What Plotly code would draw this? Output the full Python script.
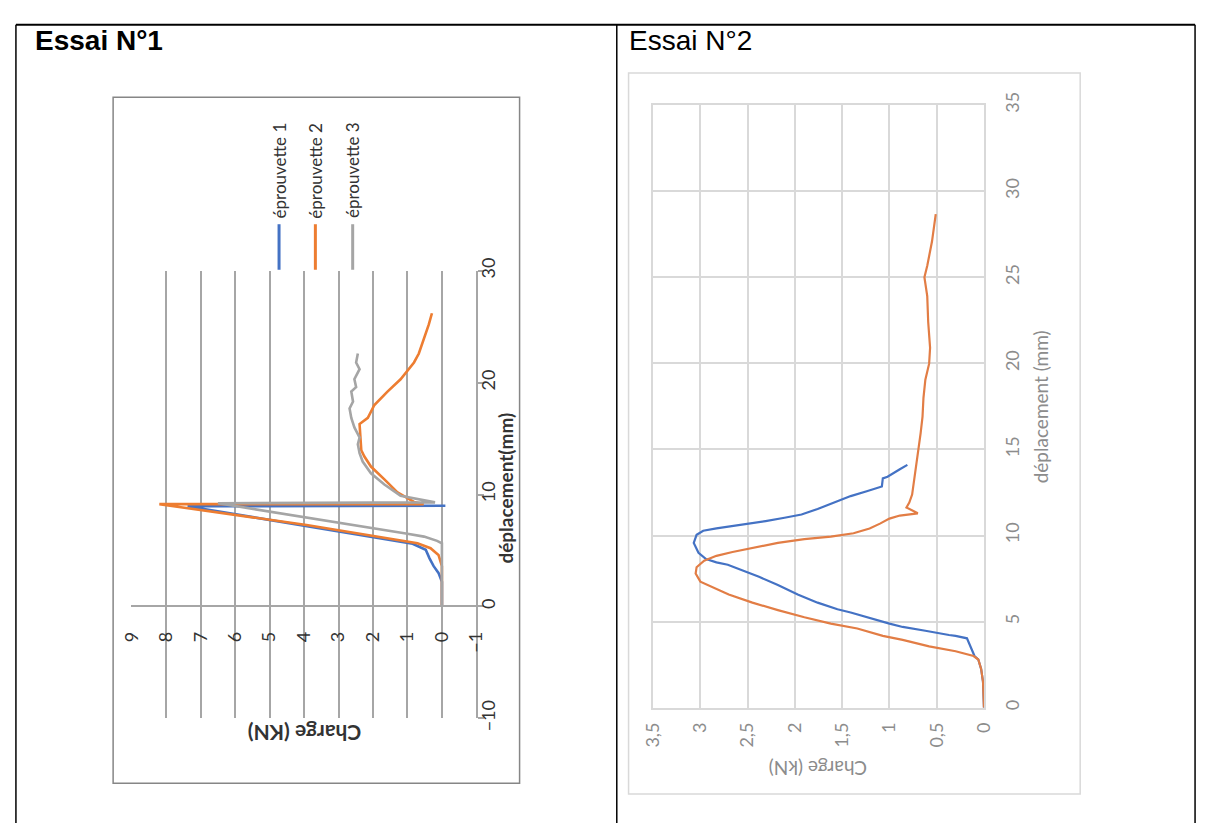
import plotly.graph_objects as go

W, H = 1208, 836

# ---------------- DATA ----------------
# Essai N°1 (déplacement mm, charge kN)
e1_ep1_depl = [0, 1.4, 2.2, 3.0, 3.6, 4.3, 5.06, 5.6, 8.95, 9.0]
e1_ep1_charge = [0, 0, 0, 0.1, 0.24, 0.36, 0.47, 0.85, 7.38, -0.1]

e1_ep2_depl = [0, 2.0, 3.6, 4.6, 5.2, 5.65, 7.28, 9.14, 9.14, 9.34, 10.2, 11.36, 12.5, 13.4,
               13.96, 16.3, 16.85, 18.0, 19.2, 20.3, 21.8, 22.6, 23.8, 25.2, 26.2]
e1_ep2_charge = [0, 0, 0, 0.1, 0.33, 0.71, 3.93, 8.2, 0.53, 0.81, 1.29, 1.67, 2.06, 2.25,
                 2.34, 2.39, 2.15, 1.96, 1.58, 1.2, 0.81, 0.67, 0.53, 0.38, 0.29]

e1_ep3_depl = [0, 3.0, 5.65, 5.86, 6.24, 6.5, 9.22, 9.3, 9.55, 9.9, 10.9, 11.9, 12.95, 13.7,
               14.5, 15.1, 16.0, 16.85, 17.7, 18.3, 19.2, 19.6, 20.3, 21.2, 21.8, 22.6]
e1_ep3_charge = [0, 0, 0, 0.14, 0.52, 1.0, 6.5, 0.2, 0.62, 1.2, 1.67, 2.06, 2.3, 2.39,
                 2.44, 2.39, 2.54, 2.63, 2.68, 2.58, 2.63, 2.49, 2.54, 2.39, 2.49, 2.44]

e1_names = ["éprouvette 1", "éprouvette 2", "éprouvette 3"]
e1_colors = ["#4472C4", "#ED7D31", "#A5A5A5"]

# Essai N°2
e2_s1_depl = [0, 1.5, 2.25, 2.8, 3.0, 4.03, 4.17, 4.22, 4.47, 4.69, 4.88, 5.22, 5.53, 5.72,
              6.1, 6.57, 7.13, 7.6, 8.07, 8.3, 8.44, 8.63, 9.0, 9.57, 10.04, 10.28, 10.41,
              10.6, 10.84, 11.03, 11.14, 11.22, 11.54, 11.91, 12.29, 12.57, 12.76, 12.85,
              13.32, 13.41, 13.85, 14.1]
e2_s1_charge = [0, 0.01, 0.03, 0.06, 0.1, 0.18, 0.3, 0.37, 0.62, 0.86, 1.0, 1.21, 1.41, 1.55,
                1.76, 1.97, 2.18, 2.38, 2.59, 2.71, 2.83, 2.94, 3.02, 3.07, 3.04, 2.97, 2.83,
                2.59, 2.31, 2.11, 2.0, 1.93, 1.76, 1.59, 1.41, 1.24, 1.12, 1.08,
                1.07, 1.02, 0.89, 0.81]

e2_s2_depl = [0, 1.5, 2.25, 2.8, 3.0, 3.28, 3.56, 3.94, 4.17, 4.6, 4.88, 5.25, 5.67, 6.1,
              6.57, 7.04, 7.32, 7.79, 8.16, 8.54, 8.82, 9.04, 9.29, 9.57, 9.79, 9.94, 10.13,
              10.41, 10.69, 10.98, 11.16, 11.29, 11.63, 11.91, 12.38, 13.13, 14.07, 15.0,
              15.95, 16.9, 18.0, 19.05, 19.98, 20.9, 22.4, 23.9, 25.0, 25.67, 27.07, 28.66]
e2_s2_charge = [0, 0.01, 0.03, 0.06, 0.11, 0.3, 0.58, 0.86, 1.07, 1.34, 1.62, 1.9, 2.18, 2.45,
                2.7, 2.9, 3.0, 3.05, 3.04, 2.96, 2.83, 2.66, 2.45, 2.18, 1.9, 1.62, 1.38,
                1.21, 1.1, 1.0, 0.89, 0.7, 0.82, 0.79, 0.76, 0.74, 0.72, 0.69,
                0.67, 0.65, 0.64, 0.62, 0.58, 0.57, 0.59, 0.6, 0.63, 0.6, 0.55, 0.51]
e2_colors = ["#4472C4", "#E27D45"]

# ticks
e1_charge_ticks = [-1, 0, 1, 2, 3, 4, 5, 6, 7, 8, 9]
e1_depl_ticks = [-10, 0, 10, 20, 30]
e2_charge_ticks = [0, 0.5, 1, 1.5, 2, 2.5, 3, 3.5]
e2_depl_ticks = [0, 5, 10, 15, 20, 25, 30, 35]

titles = ["Essai N°1", "Essai N°2"]


def px(x):
    return x / W


def py(y):
    return 1 - y / H


fig = go.Figure()

# ---- chart 1 traces (charge on x, déplacement on y: rotated chart)
for d, c, col, name in zip([e1_ep1_depl, e1_ep2_depl, e1_ep3_depl],
                           [e1_ep1_charge, e1_ep2_charge, e1_ep3_charge],
                           e1_colors, e1_names):
    fig.add_trace(go.Scatter(x=c, y=d, mode="lines", name=name,
                             line=dict(color=col, width=2.6),
                             xaxis="x", yaxis="y"))

# ---- chart 2 traces
for d, c, col in zip([e2_s1_depl, e2_s2_depl], [e2_s1_charge, e2_s2_charge], e2_colors):
    fig.add_trace(go.Scatter(x=c, y=d, mode="lines",
                             line=dict(color=col, width=2.2),
                             xaxis="x2", yaxis="y2"))

F1 = "Lato"
C1 = "#333333"
C2 = "#8C8C8C"
G1 = "#A6A6A6"
G2 = "#D9D9D9"

fig.update_layout(
    width=W, height=H,
    margin=dict(l=0, r=0, t=0, b=0),
    paper_bgcolor="white", plot_bgcolor="rgba(0,0,0,0)",
    showlegend=False,
    separators=", ",
    xaxis=dict(domain=[px(121.3), px(473)], range=[9.02, -1], tickvals=e1_charge_ticks,
               showgrid=True, gridcolor=G1, gridwidth=1.5, zeroline=False,
               showline=True, linecolor=G1, linewidth=1.5,
               anchor="free", position=py(612),
               tickangle=-90, ticks="", ticklabelstandoff=18,
               tickfont=dict(family=F1, size=18, color=C1)),
    yaxis=dict(domain=[py(728), py(266)], range=[-10, 30], tickvals=e1_depl_ticks,
               showgrid=False, zeroline=False, showline=True, linecolor=G1, linewidth=1.5,
               side="right", anchor="x", ticks="outside", ticklen=6, tickcolor=G1,
               tickwidth=1.5, tickangle=-90, ticklabelstandoff=-11,
               tickfont=dict(family=F1, size=18, color=C1)),
    xaxis2=dict(domain=[px(653), px(990)], range=[3.5, 0], tickvals=e2_charge_ticks,
                showgrid=True, gridcolor=G2, gridwidth=1.5, zeroline=False,
                showline=True, mirror=True, linecolor=G2, linewidth=1.5,
                anchor="y2", tickangle=-90, ticks="", ticklabelstandoff=6,
                tickfont=dict(family=F1, size=18, color=C2)),
    yaxis2=dict(domain=[py(717), py(95)], range=[0, 35], tickvals=e2_depl_ticks,
                showgrid=True, gridcolor=G2, gridwidth=1.5, zeroline=False,
                showline=True, mirror=True, linecolor=G2, linewidth=1.5,
                side="right", anchor="x2", tickangle=-90, ticks="", ticklabelstandoff=12,
                tickfont=dict(family=F1, size=18, color=C2)),
)

shapes = []
# table lines
shapes.append(dict(type="line", xref="paper", yref="paper", x0=px(4), x1=px(1205),
                   y0=py(12), y1=py(12), line=dict(color="black", width=2)))
for xv in [4, 616, 1205]:
    shapes.append(dict(type="line", xref="paper", yref="paper", x0=px(xv), x1=px(xv),
                       y0=py(12), y1=py(836), line=dict(color="black", width=1.5)))
# chart frames
shapes.append(dict(type="rect", xref="paper", yref="paper", x0=px(103), x1=px(517),
                   y0=py(795), y1=py(87), line=dict(color="#868686", width=1.5)))
shapes.append(dict(type="rect", xref="paper", yref="paper", x0=px(628), x1=px(1088),
                   y0=py(806), y1=py(62), line=dict(color="#D9D9D9", width=1.5)))
# legend swatches chart 1
leg_x = [272, 309, 347]
for xv, col in zip(leg_x, e1_colors):
    shapes.append(dict(type="line", xref="paper", yref="paper", x0=px(xv), x1=px(xv),
                       y0=py(265), y1=py(218), line=dict(color=col, width=3)))

annotations = []
annotations.append(dict(text="<b>" + titles[0] + "</b>", xref="paper", yref="paper",
                        x=px(21), y=py(28), xanchor="left", yanchor="middle",
                        showarrow=False, font=dict(family="Liberation Sans", size=28, color="black")))
annotations.append(dict(text=titles[1], xref="paper", yref="paper",
                        x=px(626), y=py(28), xanchor="left", yanchor="middle",
                        showarrow=False, font=dict(family="Liberation Sans", size=28, color="black")))
for xv, name in zip(leg_x, e1_names):
    annotations.append(dict(text=name, xref="paper", yref="paper", x=px(xv), y=py(214),
                            xanchor="center", yanchor="bottom", textangle=-90, showarrow=False,
                            font=dict(family=F1, size=17, color=C1)))
annotations.append(dict(text="<b>déplacement(mm)</b>", xref="paper", yref="paper",
                        x=px(503), y=py(490), xanchor="center", yanchor="middle",
                        textangle=-90, showarrow=False, font=dict(family=F1, size=19, color=C1)))
annotations.append(dict(text="<b>Charge (KN)</b>", xref="paper", yref="paper",
                        x=px(298), y=py(743), xanchor="center", yanchor="middle",
                        textangle=180, showarrow=False, font=dict(family=F1, size=21, color=C1)))
annotations.append(dict(text="déplacement (mm)", xref="paper", yref="paper",
                        x=px(1047), y=py(406), xanchor="center", yanchor="middle",
                        textangle=-90, showarrow=False, font=dict(family=F1, size=19, color=C2)))
annotations.append(dict(text="Charge (kN)", xref="paper", yref="paper",
                        x=px(821), y=py(779), xanchor="center", yanchor="middle",
                        textangle=180, showarrow=False, font=dict(family=F1, size=19, color=C2)))

fig.update_layout(shapes=shapes, annotations=annotations)

fig.write_html("out.html", config={"displayModeBar": False},
               post_script="document.body.style.margin='0';")
